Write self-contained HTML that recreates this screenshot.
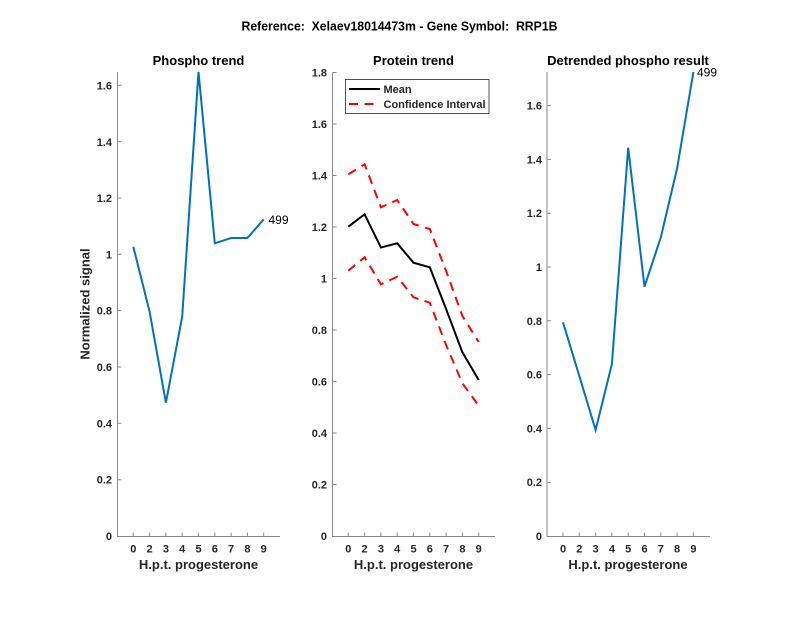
<!DOCTYPE html>
<html><head><meta charset="utf-8"><style>
html,body{margin:0;padding:0;background:#fff;}
svg{display:block;}
text{font-family:"Liberation Sans",Arial,sans-serif;}
.t{font-weight:bold;font-size:11px;fill:#262626;}
.lab{font-weight:bold;font-size:13px;fill:#262626;}
.ttl{font-weight:bold;font-size:13px;fill:#000;}
.ax{stroke:#8a8a8a;stroke-width:1;fill:none;}
</style></head><body>
<svg width="800" height="618" viewBox="0 0 800 618" xmlns="http://www.w3.org/2000/svg">
<rect width="800" height="618" fill="#fff"/>
<text x="399.5" y="30.5" class="ttl" text-anchor="middle" textLength="316" lengthAdjust="spacingAndGlyphs" xml:space="preserve" style="white-space:pre">Reference:&#160; Xelaev18014473m - Gene Symbol:&#160; RRP1B</text>

<!-- LEFT PANEL -->
<g>
<text x="198.5" y="65" class="ttl" text-anchor="middle">Phospho trend</text>
<path class="ax" d="M117.5,72 V536.5 H280"/>
<g class="ax">
<path d="M117.5,479.7h4M117.5,423.3h4M117.5,367h4M117.5,310.6h4M117.5,254.3h4M117.5,198h4M117.5,141.8h4M117.5,85.3h4"/>
<path d="M133.3,536.5v-4M149.6,536.5v-4M165.9,536.5v-4M182.2,536.5v-4M198.5,536.5v-4M214.8,536.5v-4M231.1,536.5v-4M247.4,536.5v-4M263.7,536.5v-4"/>
</g>
<g class="t" text-anchor="end">
<text x="112" y="540">0</text>
<text x="112" y="483.7">0.2</text>
<text x="112" y="427.3">0.4</text>
<text x="112" y="371">0.6</text>
<text x="112" y="314.6">0.8</text>
<text x="112" y="258.3">1</text>
<text x="112" y="202">1.2</text>
<text x="112" y="145.8">1.4</text>
<text x="112" y="89.3">1.6</text>
</g>
<g class="t" text-anchor="middle">
<text x="133.3" y="552.5">0</text><text x="149.6" y="552.5">2</text><text x="165.9" y="552.5">3</text><text x="182.2" y="552.5">4</text><text x="198.5" y="552.5">5</text><text x="214.8" y="552.5">6</text><text x="231.1" y="552.5">7</text><text x="247.4" y="552.5">8</text><text x="263.7" y="552.5">9</text>
</g>
<text x="198.5" y="569" class="lab" text-anchor="middle">H.p.t. progesterone</text>
<text transform="translate(89.5,304) rotate(-90)" class="lab" text-anchor="middle">Normalized signal</text>
<polyline fill="none" stroke="#0072BD" stroke-width="2" stroke-linejoin="miter" points="133.3,246.7 149.6,311.7 165.9,402.7 182.2,316.7 198.5,72 214.8,243.3 231.1,238 247.4,238 263.7,219.3"/>
<text x="268.5" y="224" font-size="12" fill="#000">499</text>
</g>

<!-- MIDDLE PANEL -->
<g>
<text x="413.5" y="65" class="ttl" text-anchor="middle">Protein trend</text>
<path class="ax" d="M332.5,72.5 V536.5 H495"/>
<g class="ax">
<path d="M332.5,484.5h4M332.5,433h4M332.5,381.5h4M332.5,330h4M332.5,278.5h4M332.5,227h4M332.5,175.5h4M332.5,124h4M332.5,72.5h4"/>
<path d="M348.3,536.5v-4M364.6,536.5v-4M380.9,536.5v-4M397.2,536.5v-4M413.5,536.5v-4M429.8,536.5v-4M446.1,536.5v-4M462.4,536.5v-4M478.7,536.5v-4"/>
</g>
<g class="t" text-anchor="end">
<text x="327" y="540">0</text>
<text x="327" y="488.5">0.2</text>
<text x="327" y="437">0.4</text>
<text x="327" y="385.5">0.6</text>
<text x="327" y="334">0.8</text>
<text x="327" y="282.5">1</text>
<text x="327" y="231">1.2</text>
<text x="327" y="179.5">1.4</text>
<text x="327" y="128">1.6</text>
<text x="327" y="76.5">1.8</text>
</g>
<g class="t" text-anchor="middle">
<text x="348.3" y="552.5">0</text><text x="364.6" y="552.5">2</text><text x="380.9" y="552.5">3</text><text x="397.2" y="552.5">4</text><text x="413.5" y="552.5">5</text><text x="429.8" y="552.5">6</text><text x="446.1" y="552.5">7</text><text x="462.4" y="552.5">8</text><text x="478.7" y="552.5">9</text>
</g>
<text x="413.5" y="569" class="lab" text-anchor="middle">H.p.t. progesterone</text>
<polyline fill="none" stroke="#FF0000" stroke-width="2" stroke-dasharray="9,6.5" points="348.3,174.3 364.6,164.3 380.9,207.3 397.2,200 413.5,224 429.8,229 446.1,271 462.4,316 478.7,342"/>
<polyline fill="none" stroke="#FF0000" stroke-width="2" stroke-dasharray="9,6.5" points="348.3,270.7 364.6,257.3 380.9,284.3 397.2,276.7 413.5,297.3 429.8,302.7 446.1,345 462.4,383.3 478.7,405.7"/>
<polyline fill="none" stroke="#000" stroke-width="2" points="348.3,226.7 364.6,214.3 380.9,247.5 397.2,243.3 413.5,262.7 429.8,267.3 446.1,309 462.4,352.3 478.7,380"/>
<rect x="345.5" y="79.5" width="143.5" height="34" fill="#fff" stroke="#262626" stroke-width="0.8"/>
<line x1="349" y1="89" x2="380" y2="89" stroke="#000" stroke-width="2"/>
<line x1="349" y1="104" x2="380" y2="104" stroke="#FF0000" stroke-width="2" stroke-dasharray="9,6.5"/>
<text x="383.5" y="92.8" class="t" fill="#000">Mean</text>
<text x="383.5" y="108" class="t" fill="#000">Confidence Interval</text>
</g>

<!-- RIGHT PANEL -->
<g>
<text x="628" y="65" class="ttl" text-anchor="middle">Detrended phospho result</text>
<path class="ax" d="M547,72 V536.5 H710"/>
<g class="ax">
<path d="M547,482.2h4M547,428.4h4M547,374.6h4M547,320.8h4M547,267h4M547,213.2h4M547,159.4h4M547,105.6h4"/>
<path d="M563,536.5v-4M579.3,536.5v-4M595.6,536.5v-4M611.9,536.5v-4M628.2,536.5v-4M644.5,536.5v-4M660.8,536.5v-4M677.1,536.5v-4M693.4,536.5v-4"/>
</g>
<g class="t" text-anchor="end">
<text x="542" y="540">0</text>
<text x="542" y="486.2">0.2</text>
<text x="542" y="432.4">0.4</text>
<text x="542" y="378.6">0.6</text>
<text x="542" y="324.8">0.8</text>
<text x="542" y="271">1</text>
<text x="542" y="217.2">1.2</text>
<text x="542" y="163.4">1.4</text>
<text x="542" y="109.6">1.6</text>
</g>
<g class="t" text-anchor="middle">
<text x="563" y="552.5">0</text><text x="579.3" y="552.5">2</text><text x="595.6" y="552.5">3</text><text x="611.9" y="552.5">4</text><text x="628.2" y="552.5">5</text><text x="644.5" y="552.5">6</text><text x="660.8" y="552.5">7</text><text x="677.1" y="552.5">8</text><text x="693.4" y="552.5">9</text>
</g>
<text x="628" y="569" class="lab" text-anchor="middle">H.p.t. progesterone</text>
<polyline fill="none" stroke="#0072BD" stroke-width="2" points="563,322.3 579.3,376 595.6,430 611.9,364 628.2,147.7 644.5,286.7 660.8,237.4 677.1,168.3 693.4,72"/>
<text x="697" y="76.7" font-size="12" fill="#000">499</text>
</g>
</svg>
</body></html>
